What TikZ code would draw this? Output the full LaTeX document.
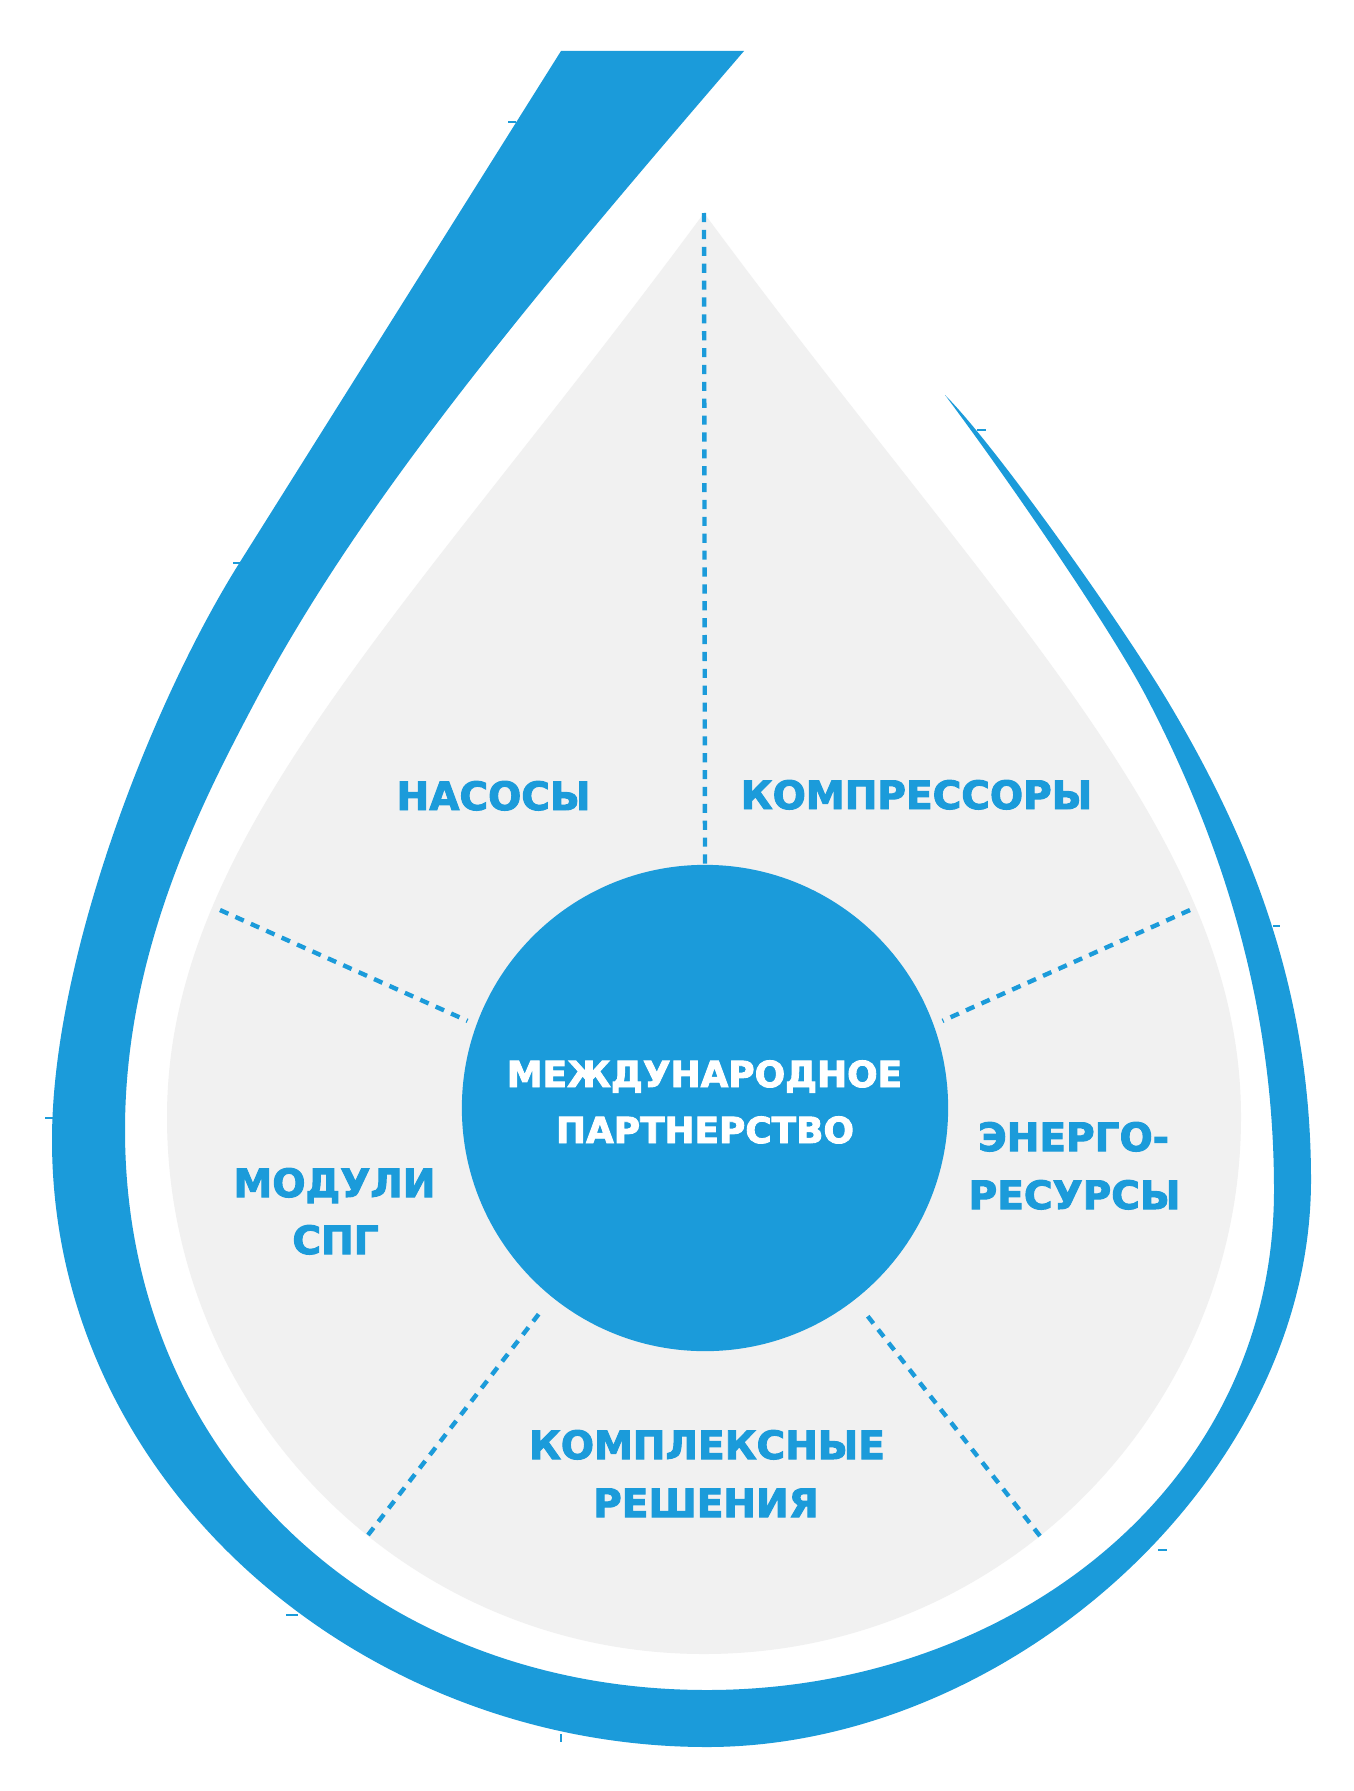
\documentclass[tikz,border=0pt]{standalone}
\usepackage{fontspec}
\setmainfont{DejaVu Sans}[BoldFeatures={FakeBold=2.5}]
\definecolor{dropblue}{RGB}{27,155,218}
\definecolor{dropgrey}{RGB}{241,241,241}
\begin{document}
\begin{tikzpicture}[x=0.01cm,y=-0.01cm,
  lbl/.style={font=\fontsize{11.1}{13}\selectfont\bfseries, text=dropblue, inner sep=0pt, anchor=base},
  hubtext/.style={font=\fontsize{10.2}{12}\selectfont\bfseries, text=white, inner sep=0pt, anchor=base},
  dotline/.style={draw=dropblue, line width=1.25pt, dash pattern=on 2.6pt off 2.2pt},
  tickmark/.style={draw=dropblue, line width=0.8pt},
  hubcircle/.style={circle, fill=dropblue, minimum size=4.86cm, inner sep=0pt}]

\useasboundingbox (0,0) rectangle (1353,1791);
\fill[white] (0,0) rectangle (1353,1791);

% outer blue band
\fill[dropblue]
  (561,51) -- (240,562)
  .. controls (150,705) and (52,960) .. (52,1140)
  .. controls (52,1485) and (362,1747) .. (707,1747)
  .. controls (1007,1747) and (1311,1480) .. (1311,1180)
  .. controls (1311,1000) and (1257,850) .. (1167,700)
  .. controls (1119,620) and (995,445) .. (945,395)
  .. controls (1005,475) and (1112,630) .. (1148,700)
  .. controls (1231,860) and (1274,1020) .. (1274,1190)
  .. controls (1274,1490) and (1007,1690) .. (707,1690)
  .. controls (377,1690) and (125,1460) .. (125,1130)
  .. controls (125,950) and (203,800) .. (256,700)
  .. controls (362,500) and (529,301) .. (744,51)
  -- cycle;

% small tick marks on the band
\draw[tickmark] (508,122) -- (516,122);
\draw[tickmark] (233,563) -- (241,563);
\draw[tickmark] (45,1118) -- (53,1118);
\draw[tickmark] (286,1615) -- (298,1615);
\draw[tickmark] (561,1734) -- (561,1742);
\draw[tickmark] (1158,1550) -- (1167,1550);
\draw[tickmark] (1273,926) -- (1280,926);
\draw[tickmark] (977,430) -- (986,430);

% grey drop
\coordinate (tip) at (704,213);
\fill[dropgrey] (tip) .. controls (409,613) and (167,837) .. (167,1117)
  arc[start angle=180, end angle=0, radius=537]
  .. controls (1241,837) and (999,613) .. (tip) -- cycle;

% hub
\node[hubcircle] (hub) at (705,1108) {};

% dotted connectors
\coordinate (ulEnd) at (220,910);
\coordinate (urEnd) at (1190,910);
\coordinate (llEnd) at (368,1535);
\coordinate (lrEnd) at (1040,1536);
\draw[dotline] (tip) -- (hub.north);
\draw[dotline, shorten >=2.6pt] (ulEnd) -- (hub.160);
\draw[dotline, shorten >=2.6pt] (urEnd) -- (hub.20);
\draw[dotline, shorten >=6pt] (llEnd) -- (hub.231);
\draw[dotline, shorten >=5.1pt] (lrEnd) -- (hub.308);

% texts
\node[hubtext] (hubA) at (704.5,1087) {МЕЖДУНАРОДНОЕ};
\node[hubtext] (hubB) at (705,1143) {ПАРТНЕРСТВО};
\node[lbl] (nas) at (493.5,810) {НАСОСЫ};
\node[lbl] (komp) at (916.5,809) {КОМПРЕССОРЫ};
\node[lbl] (enA) at (1073.5,1151) {ЭНЕРГО-};
\node[lbl] (enB) at (1074.5,1209) {РЕСУРСЫ};
\node[lbl] (modA) at (334.5,1197) {МОДУЛИ};
\node[lbl] (modB) at (335.5,1254) {СПГ};
\node[lbl] (kpA) at (707,1459) {КОМПЛЕКСНЫЕ};
\node[lbl] (kpB) at (706,1517) {РЕШЕНИЯ};
\end{tikzpicture}
\end{document}
